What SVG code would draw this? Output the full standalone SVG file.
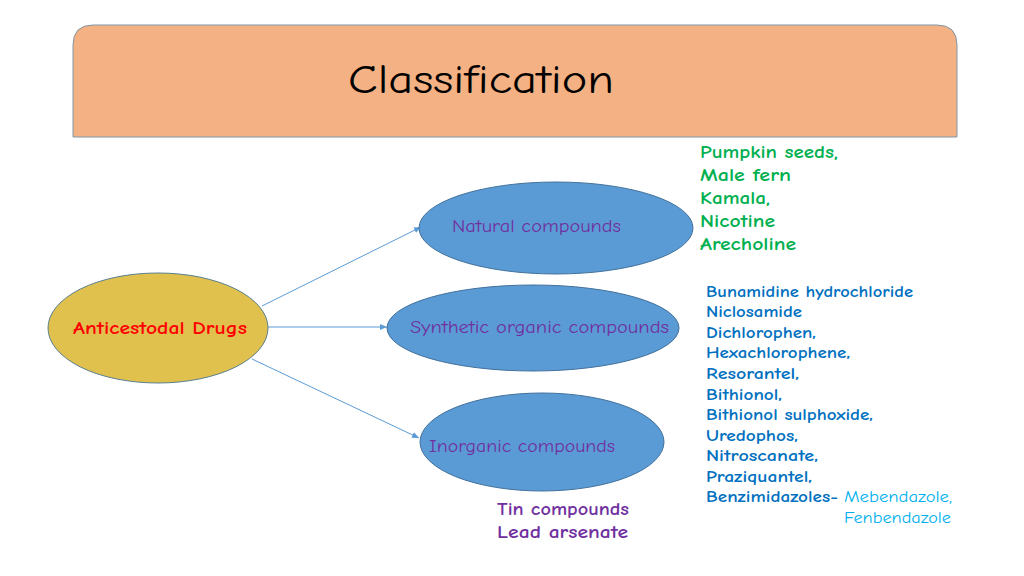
<svg xmlns="http://www.w3.org/2000/svg" width="1024" height="576" viewBox="0 0 1024 576">
<defs>
<marker id="ah" markerWidth="8" markerHeight="8" refX="7" refY="4" orient="auto" markerUnits="userSpaceOnUse">
<path d="M0,1 L7,4 L0,7 z" fill="#5B9BD5"/>
</marker>
<style>
text{font-family:"Comic Neue","DejaVu Sans","Liberation Sans",sans-serif}
.blue{fill:#5B9BD5;stroke:#41719C;stroke-width:1}
.sub{fill:#7030A0;font-size:18px}
.green{fill:#00B050;font-size:17px;font-weight:bold}
.dblue{fill:#0070C0;font-size:15px;font-weight:bold}
.lblue{fill:#00B0F0;font-size:15px}
.conn{stroke:#5B9BD5;stroke-width:1;fill:none;marker-end:url(#ah)}
</style>
</defs>
<rect width="1024" height="576" fill="#ffffff"/>
<g id="header">
<path d="M73,137 V45 Q73,25 93,25 H937 Q957,25 957,45 V137 Z" fill="#F4B183" stroke="#7F97A8" stroke-width="1"/>
<text x="481" y="93" text-anchor="middle" font-size="40" fill="#000" textLength="266" lengthAdjust="spacingAndGlyphs">Classification</text>
</g>
<g id="connectors">
<line class="conn" x1="262" y1="306" x2="421" y2="227"/>
<line class="conn" x1="268" y1="327" x2="387" y2="327"/>
<line class="conn" x1="252" y1="359" x2="419" y2="438"/>
</g>
<g id="anticestodal">
<ellipse cx="158" cy="328" rx="110" ry="55" fill="#E0C14E" stroke="#5A7F8F" stroke-width="1"/>
<text x="160" y="334" text-anchor="middle" font-size="17" font-weight="bold" fill="#FF0000" textLength="174" lengthAdjust="spacingAndGlyphs">Anticestodal Drugs</text>
</g>
<g id="natural">
<ellipse class="blue" cx="556" cy="228" rx="137" ry="46"/>
<text class="sub" x="452" y="232" textLength="169" lengthAdjust="spacingAndGlyphs">Natural compounds</text>
</g>
<g id="synthetic">
<ellipse class="blue" cx="533" cy="328" rx="146" ry="43"/>
<text class="sub" x="410" y="333" textLength="259" lengthAdjust="spacingAndGlyphs">Synthetic organic compounds</text>
</g>
<g id="inorganic">
<ellipse class="blue" cx="542" cy="442" rx="122" ry="49"/>
<text class="sub" x="429" y="452" textLength="186" lengthAdjust="spacingAndGlyphs">Inorganic compounds</text>
</g>
<g id="natural-list">
<text class="green" x="700" y="158" textLength="138" lengthAdjust="spacingAndGlyphs">Pumpkin seeds,</text>
<text class="green" x="700" y="181" textLength="91" lengthAdjust="spacingAndGlyphs">Male fern</text>
<text class="green" x="700" y="204" textLength="70" lengthAdjust="spacingAndGlyphs">Kamala,</text>
<text class="green" x="700" y="227" textLength="75" lengthAdjust="spacingAndGlyphs">Nicotine</text>
<text class="green" x="700" y="250" textLength="96" lengthAdjust="spacingAndGlyphs">Arecholine</text>
</g>
<g id="synthetic-list">
<text class="dblue" x="706" y="297" textLength="207" lengthAdjust="spacingAndGlyphs">Bunamidine hydrochloride</text>
<text class="dblue" x="706" y="317" textLength="96" lengthAdjust="spacingAndGlyphs">Niclosamide</text>
<text class="dblue" x="706" y="338" textLength="110" lengthAdjust="spacingAndGlyphs">Dichlorophen,</text>
<text class="dblue" x="706" y="358" textLength="144" lengthAdjust="spacingAndGlyphs">Hexachlorophene,</text>
<text class="dblue" x="706" y="379" textLength="93" lengthAdjust="spacingAndGlyphs">Resorantel,</text>
<text class="dblue" x="706" y="400" textLength="76" lengthAdjust="spacingAndGlyphs">Bithionol,</text>
<text class="dblue" x="706" y="420" textLength="167" lengthAdjust="spacingAndGlyphs">Bithionol sulphoxide,</text>
<text class="dblue" x="706" y="441" textLength="92" lengthAdjust="spacingAndGlyphs">Uredophos,</text>
<text class="dblue" x="706" y="461" textLength="112" lengthAdjust="spacingAndGlyphs">Nitroscanate,</text>
<text class="dblue" x="706" y="482" textLength="106" lengthAdjust="spacingAndGlyphs">Praziquantel,</text>
<text class="dblue" x="706" y="502" textLength="132" lengthAdjust="spacingAndGlyphs">Benzimidazoles-</text>
<text class="lblue" x="844" y="502" textLength="108" lengthAdjust="spacingAndGlyphs">Mebendazole,</text>
<text class="lblue" x="844" y="523" textLength="107" lengthAdjust="spacingAndGlyphs">Fenbendazole</text>
</g>
<g id="inorganic-list">
<text x="497" y="515" font-size="18" font-weight="bold" fill="#7030A0" textLength="132" lengthAdjust="spacingAndGlyphs">Tin compounds</text>
<text x="497" y="538" font-size="18" font-weight="bold" fill="#7030A0" textLength="131" lengthAdjust="spacingAndGlyphs">Lead arsenate</text>
</g>
</svg>
